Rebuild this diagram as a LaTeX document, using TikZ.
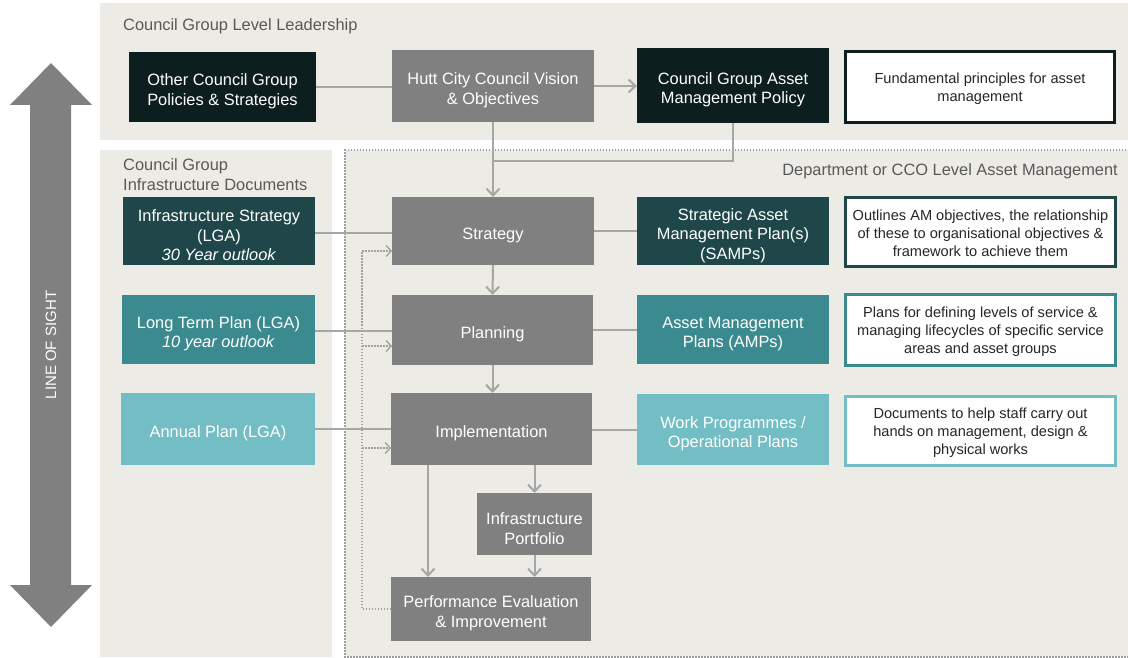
\documentclass[tikz,border=0pt]{standalone}
\usepackage{fontspec}
\setmainfont{Liberation Sans}
\usetikzlibrary{arrows.meta}
\definecolor{panel}{HTML}{EDEBE6}
\definecolor{gbox}{HTML}{808080}
\definecolor{cdark}{HTML}{0D1E1F}
\definecolor{cdteal}{HTML}{1F474A}
\definecolor{cteal}{HTML}{3B8A8F}
\definecolor{clteal}{HTML}{72BEC4}
\definecolor{cline}{HTML}{A6A6A6}
\definecolor{fbline}{HTML}{A0A0A0}
\definecolor{ttl}{HTML}{595959}
\definecolor{dtext}{HTML}{262626}
\newcommand\bx[7]{\node[#6,minimum width={(#4-#2)*1pt},minimum height={(#5-#3)*1pt}] (#1) at ({(#2+#4)/2},{(#3+#5)/2}) {};
  \node[boxtext,yshift=-4.5pt] (#1-t) at (#1.center) {#7};}
\newcommand\dbx[7]{\node[#6,minimum width={(#4-#2-3.3)*1pt},minimum height={(#5-#3-3.3)*1pt}] (#1) at ({(#2+#4)/2},{(#3+#5)/2}) {};
  \node[dtextstyle,yshift=-1.5pt] (#1-t) at (#1.center) {#7};}
\begin{document}
\begin{tikzpicture}[x=1pt,y=-1pt,
  box/.style={inner sep=0pt,outer sep=0pt},
  boxtext/.style={inner sep=0pt,align=center,text=white,font=\fontsize{16.4}{19.5}\selectfont},
  dbox/.style={inner sep=0pt,outer sep=0pt,fill=white,line width=3.3pt},
  dtextstyle/.style={inner sep=0pt,align=center,text=dtext,font=\fontsize{14.6}{18}\selectfont},
  ttlstyle/.style={inner sep=0pt,text=ttl,font=\fontsize{16.4}{19.5}\selectfont},
  conn/.style={draw=cline,line width=2pt},
  arr/.style={-{Straight Barb[length=7pt,width=13pt]}},
  fb/.style={draw=fbline,line width=1.3pt,dash pattern=on 1.5pt off 1.5pt,-{Straight Barb[length=5pt,width=11pt,line width=1.3pt]}}
]
\useasboundingbox (0,0) rectangle (1128,658);
% panels
\fill[panel] (100,3) rectangle (1128,140);
\fill[panel] (100,150) rectangle (332,657);
\fill[panel] (345,150) rectangle (1130,657);
\draw[fbline,line width=1.5pt,dash pattern=on 1.5pt off 1.5pt] (1132,150) -- (345,150) -- (345,657) -- (1132,657);
% titles
\node[ttlstyle,anchor=base west] (t1) at (123,31) {Council Group Level Leadership};
\node[ttlstyle,anchor=base west] (t2) at (123,171) {Council Group};
\node[ttlstyle,anchor=base west] (t3) at (123,190) {Infrastructure Documents};
\node[ttlstyle,anchor=base east] (t4) at (1118,176) {Department or CCO Level Asset Management};
% line of sight arrow
\fill[gbox] (51,63) -- (92,105) -- (71,105) -- (71,585) -- (92,585) -- (51,627) -- (10,585) -- (30,585) -- (30,105) -- (10,105) -- cycle;
\node[rotate=90,text=white,font=\fontsize{15}{18}\selectfont] (los) at (51,345) {LINE OF SIGHT};
% top row
\bx{other}{129}{52}{316}{122}{box,fill=cdark}{Other Council Group\\Policies \& Strategies}
\bx{hutt}{392}{50}{594}{122}{box,fill=gbox}{Hutt City Council Vision\\\& Objectives}
\bx{cgamp}{637}{48}{829}{123}{box,fill=cdark}{Council Group Asset\\Management Policy}
\dbx{d1}{844}{50}{1116}{124}{dbox,draw=cdark}{Fundamental principles for asset\\management}
% middle column
\bx{strategy}{392}{197}{594}{265}{box,fill=gbox}{Strategy}
\bx{planning}{392}{295}{593}{365}{box,fill=gbox}{Planning}
\bx{impl}{391}{393}{592}{465}{box,fill=gbox}{Implementation}
\bx{infra}{477}{493}{592}{555}{box,fill=gbox}{Infrastructure\\Portfolio}
\bx{perf}{391}{577}{591}{641}{box,fill=gbox}{Performance Evaluation\\\& Improvement}
% left column
\bx{istrat}{123}{197}{315}{265}{box,fill=cdteal}{Infrastructure Strategy\\(LGA)\\\textit{30 Year outlook}}
\bx{ltp}{122}{295}{315}{364}{box,fill=cteal}{Long Term Plan (LGA)\\\textit{10 year outlook}}
\bx{annual}{121}{393}{315}{465}{box,fill=clteal}{Annual Plan (LGA)}
% right column
\bx{samp}{637}{197}{829}{265}{box,fill=cdteal}{Strategic Asset\\Management Plan(s)\\(SAMPs)}
\bx{amp}{637}{295}{829}{364}{box,fill=cteal}{Asset Management\\Plans (AMPs)}
\bx{work}{637}{394}{829}{465}{box,fill=clteal}{Work Programmes /\\Operational Plans}
\dbx{d2}{844}{196}{1117}{268}{dbox,draw=cdteal}{Outlines AM objectives, the relationship\\of these to organisational objectives \&\\framework to achieve them}
\dbx{d3}{844}{293}{1117}{367}{dbox,draw=cteal}{Plans for defining levels of service \&\\managing lifecycles of specific service\\areas and asset groups}
\dbx{d4}{844}{395}{1117}{467}{dbox,draw=clteal}{Documents to help staff carry out\\hands on management, design \&\\physical works}
% connectors
\draw[conn] (other.east) -- (other.east -| hutt.west);
\draw[conn,arr] (hutt.east |- 0,86) -- (cgamp.west |- 0,86);
\draw[conn,arr] (hutt.south) -- (strategy.north);
\coordinate (j1) at (493,161);
\draw[conn] (cgamp.south) |- (j1);
\draw[conn,arr] (strategy.south) -- (planning.north);
\draw[conn,arr] (planning.south) -- (planning.south |- impl.north);
\draw[conn,arr] (infra.north |- impl.south) -- (infra.north);
\draw[conn,arr] (infra.south) -- (infra.south |- perf.north);
\draw[conn,arr] ([xshift=37pt]impl.south west) -- ([xshift=37pt]impl.south west |- perf.north);
\draw[conn] (istrat.east |- 0,233) -- (strategy.west |- 0,233);
\draw[conn] (ltp.east |- 0,331) -- (planning.west |- 0,331);
\draw[conn] (annual.east) -- (annual.east -| impl.west);
\draw[conn] (strategy.east) -- (samp.west);
\draw[conn] (planning.east |- 0,330) -- (amp.west |- 0,330);
\draw[conn] (impl.east |- 0,430) -- (work.west |- 0,430);
% feedback dotted
\coordinate (fs) at (362,251);
\coordinate (fp) at (362,346);
\coordinate (fi) at (362,448);
\draw[fb] (perf.west) -| (fs) -- (fs -| strategy.west);
\draw[fb] (fp) -- (fp -| planning.west);
\draw[fb] (fi) -- (fi -| impl.west);
\end{tikzpicture}
\end{document}
